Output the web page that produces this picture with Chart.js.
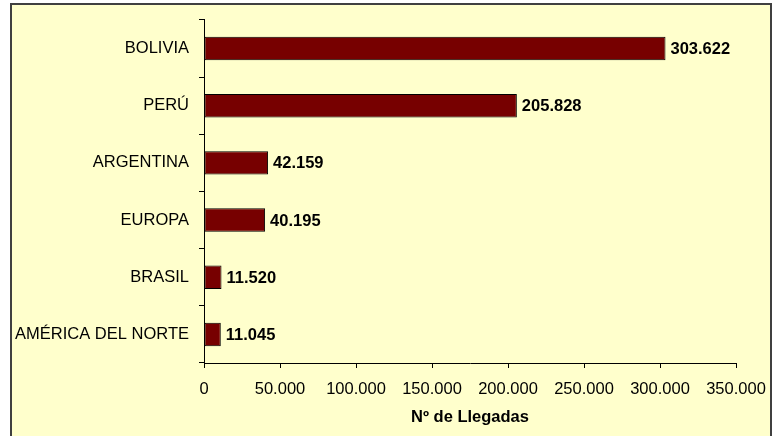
<!DOCTYPE html>
<html>
<head>
<meta charset="utf-8">
<script src="https://cdn.jsdelivr.net/npm/chart.js@4"></script>
<style>
  body { margin: 0; background: #ffffff; }
  #frame { position: absolute; left: 10px; top: 3px; width: 758px; height: 440px; border: 2px solid #404040; background: #ffffcc; }
  #wrap { position: absolute; left: 0; top: 0; width: 782px; height: 436px; }
</style>
</head>
<body>
<div id="frame"></div>
<div id="wrap"><canvas id="chartCanvas" width="782" height="436"></canvas></div>
<script>
// Data for chart
var categories = ['BOLIVIA', 'PERÚ', 'ARGENTINA', 'EUROPA', 'BRASIL', 'AMÉRICA DEL NORTE'];
var llegadas = [303622, 205828, 42159, 40195, 11520, 11045];
var xTicks = [0, 50000, 100000, 150000, 200000, 250000, 300000, 350000];

function fmt(v) {
  return String(v).replace(/\B(?=(\d{3})+(?!\d))/g, '.');
}

var font = 'Liberation Sans, Arial, sans-serif';
var fontSize = 16.5;

// Draw the value at the end of each bar
var valueLabels = {
  id: 'valueLabels',
  afterDatasetsDraw: function (chart) {
    var ctx = chart.ctx;
    var meta = chart.getDatasetMeta(0);
    ctx.save();
    ctx.font = 'bold ' + fontSize + 'px ' + font;
    ctx.fillStyle = '#000';
    ctx.textAlign = 'left';
    ctx.textBaseline = 'middle';
    meta.data.forEach(function (bar, i) {
      ctx.fillText(fmt(llegadas[i]), bar.x + 5, bar.y + 1);
    });
    ctx.restore();
  }
};

var ctx = document.getElementById('chartCanvas').getContext('2d');

var chart = new Chart(ctx, {
  type: 'bar',
  data: {
    labels: categories,
    datasets: [{
      data: llegadas,
      backgroundColor: '#770000',
      borderColor: '#000000',
      borderWidth: 1,
      borderSkipped: false,
      barPercentage: 0.41,
      categoryPercentage: 1
    }]
  },
  options: {
    indexAxis: 'y',
    responsive: false,
    animation: false,
    layout: { padding: { left: 0, right: 46, top: 19, bottom: 8 } },
    plugins: {
      legend: { display: false },
      tooltip: { enabled: false }
    },
    scales: {
      x: {
        min: 0,
        max: 350000,
        afterBuildTicks: function (scale) {
          scale.ticks = xTicks.map(function (v) { return { value: v }; });
        },
        afterFit: function (scale) { scale.height = 65; },
        grid: { drawOnChartArea: false, tickLength: 5, color: '#000', tickColor: '#000' },
        border: { color: '#000', width: 1 },
        ticks: {
          color: '#000',
          padding: 12,
          maxRotation: 0,
          autoSkip: false,
          font: { family: font, size: fontSize },
          callback: function (v) { return fmt(v); }
        },
        title: {
          display: true,
          text: 'Nº de Llegadas',
          color: '#000',
          font: { family: font, size: fontSize, weight: 'bold' },
          padding: { top: 3, bottom: 1 }
        }
      },
      y: {
        afterFit: function (scale) { scale.width = 204; },
        grid: { drawOnChartArea: false, offset: true, tickLength: 5, color: '#000', tickColor: '#000' },
        border: { color: '#000', width: 1 },
        ticks: {
          color: '#000',
          padding: 10,
          font: { family: font, size: fontSize }
        }
      }
    }
  },
  plugins: [valueLabels]
});
</script>
</body>
</html>
